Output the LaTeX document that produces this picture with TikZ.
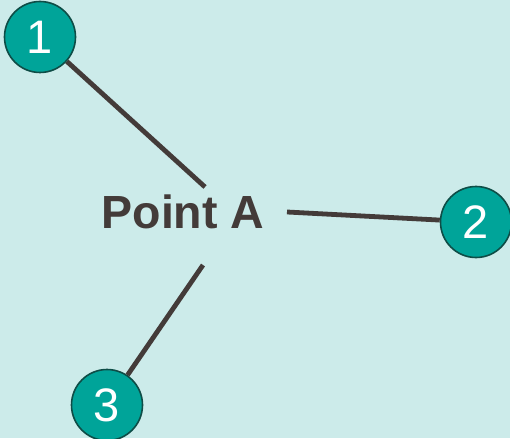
\documentclass[tikz,border=0pt]{standalone}
\usepackage{fontspec}
\setmainfont{Liberation Sans}
\definecolor{bgteal}{HTML}{CCEBEA}
\definecolor{dotfill}{HTML}{00A499}
\definecolor{dotedge}{HTML}{0E4D47}
\definecolor{ink}{HTML}{433B39}

\begin{document}
\begin{tikzpicture}[x=1pt,y=-1pt,
        dot/.style={circle, fill=dotfill, draw=dotedge, line width=1.6pt,
            minimum size=71pt, inner sep=0pt, text=white,
            font=\fontsize{47}{47}\selectfont},
        spoke/.style={ink, line width=4.8pt}]
        \fill[bgteal] (0,0) rectangle (510,438);
        \useasboundingbox (0,0) rectangle (510,438);
        \node[text=ink, font=\bfseries\fontsize{46.5}{46.5}\selectfont] (ptA) at (183,212) {Point A};
        % ends of the spokes, around the label
        \coordinate (e1) at (205,187);
        \coordinate (e2) at (287,212);
        \coordinate (e3) at (203,265);
        \node[dot] (c1) at (40,37) {1};
        \node[dot] (c2) at (476,222) {2};
        \node[dot] (c3) at (107,405) {3};
        \foreach \i in {1,2,3}
        {
            \draw[spoke] (c\i) -- (e\i);
        }
    \end{tikzpicture}
\end{document}
